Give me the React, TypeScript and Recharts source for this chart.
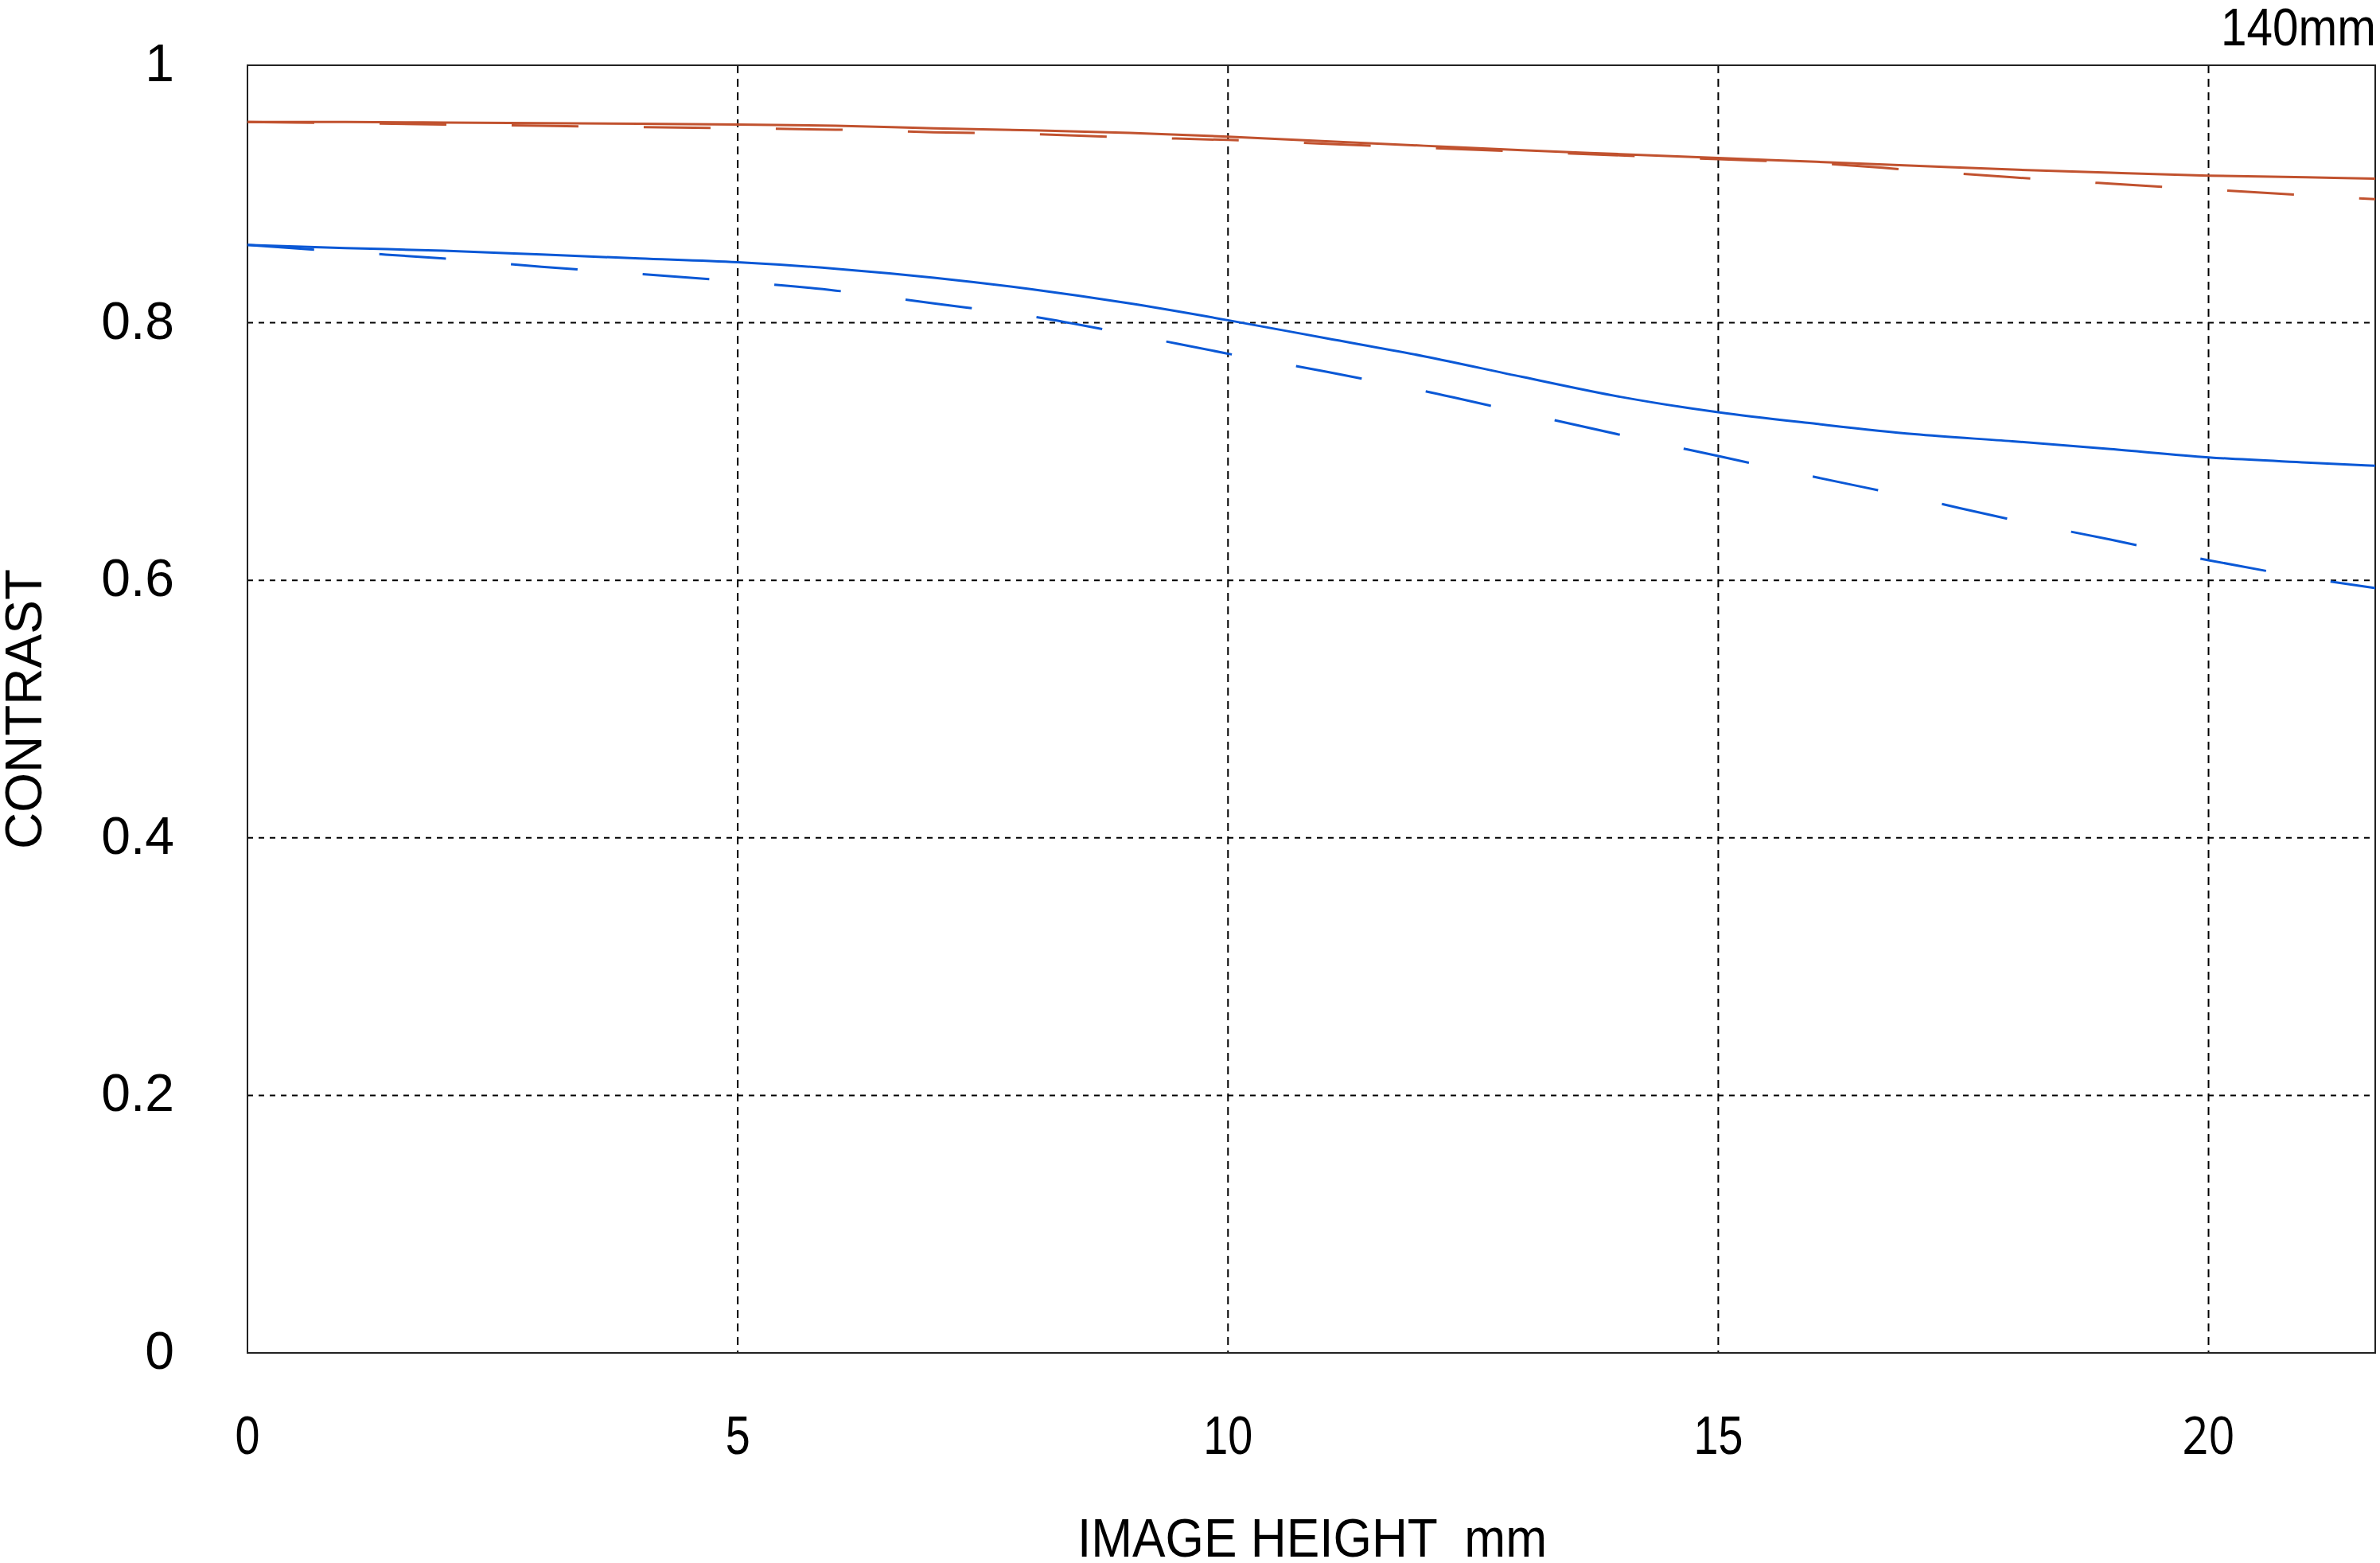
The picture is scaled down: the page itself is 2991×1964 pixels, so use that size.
import React from 'react';
import { LineChart, Line, XAxis, YAxis, CartesianGrid, ReferenceArea } from 'recharts';

// image height in mm
const heights = [0, 1, 2, 3, 4, 5, 6, 7, 8, 9, 10, 11, 12, 13, 14, 15, 16, 17, 18, 19, 20, 21, 21.7];

const redSolid = [0.956, 0.956, 0.9555, 0.955, 0.9545, 0.954, 0.953, 0.951, 0.9495, 0.9475, 0.9445, 0.941, 0.9375, 0.934, 0.931, 0.928, 0.925, 0.922, 0.919, 0.9165, 0.9143, 0.913, 0.912];
const redDashed = [0.956, 0.955, 0.954, 0.953, 0.952, 0.951, 0.95, 0.948, 0.9465, 0.944, 0.942, 0.939, 0.936, 0.933, 0.93, 0.927, 0.924, 0.9185, 0.913, 0.908, 0.9035, 0.899, 0.896];
const blueSolid = [0.8605, 0.858, 0.856, 0.853, 0.85, 0.847, 0.842, 0.835, 0.826, 0.815, 0.802, 0.788, 0.774, 0.758, 0.7425, 0.7305, 0.7215, 0.7135, 0.708, 0.702, 0.6955, 0.6915, 0.689];
const blueDashed = [0.8605, 0.855, 0.85, 0.8435, 0.838, 0.832, 0.825, 0.815, 0.805, 0.791, 0.776, 0.762, 0.747, 0.73, 0.713, 0.6965, 0.68, 0.664, 0.647, 0.6316, 0.6156, 0.602, 0.594];

const xTicks = [0, 5, 10, 15, 20];
const yTicks = [0, 0.2, 0.4, 0.6, 0.8, 1];

const RED = '#C1522F';
const BLUE = '#0A58D6';
const SANS = '"Liberation Sans", Arial, sans-serif';

const data = heights.map((h, i) => ({
  h,
  rs: redSolid[i],
  rd: redDashed[i],
  bs: blueSolid[i],
  bd: blueDashed[i],
}));

const XTick = ({ x, y, payload }: any) => {
  const v = payload.value;
  const open = v === 20;
  const w = open ? 66 : String(v).length * 31;
  return (
    <text
      x={x}
      y={y + 127}
      textAnchor="middle"
      fontFamily={open ? '"Open Sans", sans-serif' : SANS}
      fontSize={open ? 66 : 68}
      textLength={w}
      lengthAdjust="spacingAndGlyphs"
      fill="#000"
    >
      {v}
    </text>
  );
};

const YTick = ({ x, y, payload }: any) => {
  const v = payload.value;
  const label = v === 0 || v === 1 ? String(v) : v.toFixed(1);
  return (
    <text x={x - 92} y={y + 20} textAnchor="end" fontFamily={SANS} fontSize={66} fill="#000">
      {label}
    </text>
  );
};

export default function App() {
  return (
    <div style={{ position: 'absolute', left: 0, top: 0, width: 2991, height: 1964, background: '#fff' }}>
      <LineChart
        width={2991}
        height={1964}
        data={data}
        margin={{ top: 82, right: 6, bottom: 114, left: 111 }}
      >
        <CartesianGrid horizontal={true} vertical={false} stroke="#000" strokeWidth={2} strokeDasharray="7 7" />
        <CartesianGrid horizontal={false} vertical={true} stroke="#000" strokeWidth={2} strokeDasharray="10 7" />
        <XAxis
          dataKey="h"
          type="number"
          domain={[0, 21.7]}
          ticks={xTicks}
          allowDataOverflow
          axisLine={false}
          tickLine={false}
          tickSize={0}
          tickMargin={0}
          height={150}
          tick={<XTick />}
        />
        <YAxis
          type="number"
          domain={[0, 1]}
          ticks={yTicks}
          axisLine={false}
          tickLine={false}
          tickSize={0}
          tickMargin={0}
          width={200}
          tick={<YTick />}
        />
        <ReferenceArea x1={0} x2={21.7} y1={0} y2={1} fill="none" fillOpacity={0} stroke="#222" strokeWidth={2} />
        <Line type="monotone" dataKey="rd" stroke={RED} strokeWidth={3} strokeDasharray="84 82" dot={false} isAnimationActive={false} />
        <Line type="monotone" dataKey="rs" stroke={RED} strokeWidth={3} dot={false} isAnimationActive={false} />
        <Line type="monotone" dataKey="bd" stroke={BLUE} strokeWidth={3} strokeDasharray="84 82" dot={false} isAnimationActive={false} />
        <Line type="monotone" dataKey="bs" stroke={BLUE} strokeWidth={3} dot={false} isAnimationActive={false} />
      </LineChart>
      <svg width={2991} height={1964} style={{ position: 'absolute', left: 0, top: 0, pointerEvents: 'none' }}>
        <text
          x={2986}
          y={57}
          textAnchor="end"
          fontFamily={SANS}
          fontSize={66}
          textLength={195}
          lengthAdjust="spacingAndGlyphs"
          fill="#000"
        >
          140mm
        </text>
        <text
          x={1649}
          y={1956}
          textAnchor="middle"
          fontFamily={SANS}
          fontSize={68}
          textLength={590}
          lengthAdjust="spacingAndGlyphs"
          fill="#000"
          style={{ whiteSpace: 'pre' }}
        >
          IMAGE HEIGHT  mm
        </text>
        <text
          x={52}
          y={891}
          textAnchor="middle"
          fontFamily={SANS}
          fontSize={64}
          fill="#000"
          transform="rotate(-90 52 891)"
        >
          CONTRAST
        </text>
      </svg>
    </div>
  );
}
